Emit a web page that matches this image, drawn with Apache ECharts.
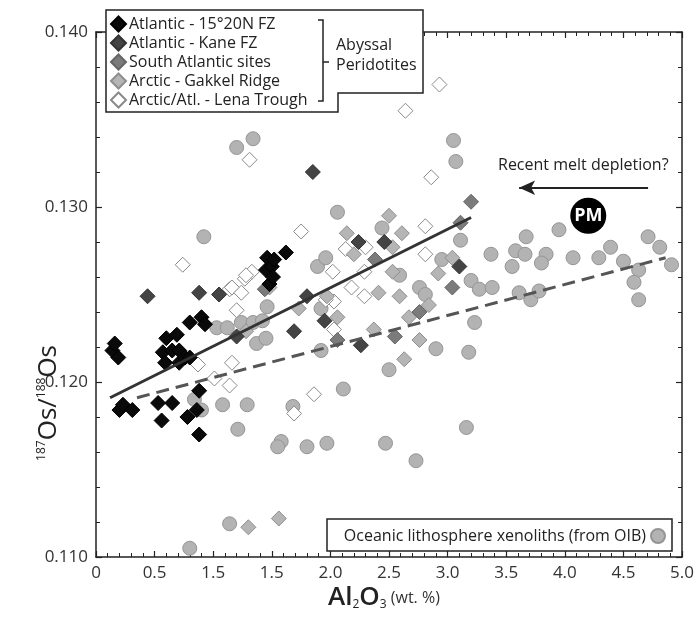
<!DOCTYPE html>
<html>
<head>
<meta charset="utf-8">
<script src="https://cdn.jsdelivr.net/npm/echarts@6/dist/echarts.min.js"></script>
<style>
  html, body { margin: 0; padding: 0; background: #fff; }
  #chart { width: 697px; height: 618px; }
</style>
</head>
<body>
<div id="chart"></div>
<script>
// tick labels as printed in the figure (the 1.0 tick really reads "1.5")
var xTickLabels = ['0', '0.5', '1.5', '1.5', '2.0', '2.5', '3.0', '3.5', '4.0', '4.5', '5.0']

// [Al2O3 wt.%, 187Os/188Os]
var atlantic1520 = [
  [0.14, 0.1218], [0.16, 0.1222], [0.19, 0.1214], [0.20, 0.1184], [0.23, 0.1187], [0.31, 0.1184],
  [0.53, 0.1188], [0.56, 0.1178], [0.65, 0.1188], [0.78, 0.1180], [0.86, 0.1184], [0.88, 0.1195],
  [0.88, 0.1170], [0.57, 0.1217], [0.59, 0.1211], [0.60, 0.1225], [0.65, 0.1218], [0.69, 0.1227],
  [0.71, 0.1218], [0.71, 0.1211], [0.76, 0.1214], [0.80, 0.1214], [0.80, 0.1234], [0.90, 0.1237],
  [0.93, 0.1233], [1.45, 0.1264], [1.46, 0.1271], [1.48, 0.1256], [1.50, 0.1266], [1.51, 0.1260],
  [1.52, 0.1270], [1.62, 0.1274]
]
var kaneFZ = [
  [0.44, 0.1249], [0.88, 0.1251], [1.05, 0.1250], [1.20, 0.1226], [1.69, 0.1229], [1.80, 0.1249],
  [1.85, 0.1320], [1.95, 0.1235], [2.24, 0.1280], [2.26, 0.1221], [2.46, 0.1280], [3.10, 0.1266]
]
var southAtlantic = [
  [3.20, 0.1303], [3.11, 0.1291], [3.04, 0.1254], [2.06, 0.1224], [2.76, 0.1240], [1.44, 0.1253],
  [2.55, 0.1226], [2.38, 0.1270]
]
var gakkel = [
  [2.50, 0.1295], [2.61, 0.1285], [2.14, 0.1285], [2.53, 0.1277], [3.04, 0.1271], [2.53, 0.1263],
  [2.41, 0.1251], [2.59, 0.1249], [1.97, 0.1249], [1.28, 0.1229], [1.48, 0.1254], [1.30, 0.1117],
  [1.56, 0.1122], [2.06, 0.1237], [2.37, 0.1230], [2.67, 0.1237], [2.76, 0.1224], [1.73, 0.1242],
  [2.84, 0.1244], [2.63, 0.1213], [2.20, 0.1273], [2.92, 0.1262]
]
var lenaTrough = [
  [2.93, 0.1370], [2.64, 0.1355], [1.31, 0.1327], [2.86, 0.1317], [1.75, 0.1286], [2.81, 0.1289],
  [2.13, 0.1276], [2.30, 0.1277], [2.81, 0.1273], [2.02, 0.1263], [2.29, 0.1263], [2.18, 0.1254],
  [2.29, 0.1249], [1.33, 0.1263], [1.27, 0.1259], [1.14, 0.1253], [0.74, 0.1267], [1.28, 0.1261],
  [1.16, 0.1254], [1.24, 0.1251], [1.20, 0.1241], [2.03, 0.1230], [2.03, 0.1246], [0.87, 0.1210],
  [1.16, 0.1211], [1.01, 0.1202], [1.14, 0.1198], [1.69, 0.1182], [1.86, 0.1193], [1.96, 0.1247]
]
var xenoliths = [
  [1.20, 0.1334], [1.34, 0.1339], [3.05, 0.1338], [3.07, 0.1326], [2.06, 0.1297], [0.92, 0.1283],
  [2.44, 0.1288], [3.11, 0.1281], [3.37, 0.1273], [2.95, 0.1270], [1.89, 0.1266], [1.96, 0.1271],
  [2.59, 0.1261], [2.76, 0.1254], [2.81, 0.1250], [3.20, 0.1258], [3.27, 0.1253], [1.46, 0.1243],
  [1.03, 0.1231], [1.12, 0.1231], [1.24, 0.1234], [1.34, 0.1234], [1.42, 0.1235], [1.37, 0.1222],
  [1.45, 0.1225], [1.92, 0.1242], [1.92, 0.1218], [0.84, 0.1190], [0.90, 0.1184], [1.08, 0.1187],
  [1.29, 0.1187], [1.21, 0.1173], [1.68, 0.1186], [1.58, 0.1166], [1.55, 0.1163], [1.80, 0.1163],
  [1.97, 0.1165], [3.67, 0.1283], [3.95, 0.1287], [3.58, 0.1275], [3.66, 0.1273], [3.84, 0.1273],
  [4.39, 0.1277], [4.71, 0.1283], [4.81, 0.1277], [3.55, 0.1266], [3.80, 0.1268], [4.07, 0.1271],
  [4.29, 0.1271], [4.50, 0.1269], [4.63, 0.1264], [4.91, 0.1267], [4.59, 0.1257], [4.63, 0.1247],
  [3.38, 0.1254], [3.61, 0.1251], [3.71, 0.1247], [3.78, 0.1252], [3.23, 0.1234], [3.18, 0.1217],
  [2.90, 0.1219], [3.16, 0.1174], [2.73, 0.1155], [2.47, 0.1165], [2.50, 0.1207], [2.11, 0.1196],
  [0.80, 0.1105], [1.14, 0.1119]
]
var abyssalTrend = [[0.12, 0.1191], [3.20, 0.1294]]
var xenolithTrend = [[0.35, 0.1191], [4.86, 0.1271]]
var primitiveMantle = [[4.20, 0.1295]]
var meltArrow = [[4.71, 0.1311], [3.61, 0.1311]]

var FONT = '"Open Sans", "DejaVu Sans", sans-serif'

var chart = echarts.init(document.getElementById('chart'))

function diamondSeries(name, data, fill, border) {
  return {
    name: name,
    type: 'scatter',
    data: data,
    symbol: 'diamond',
    symbolSize: [15, 15],
    itemStyle: { color: fill, borderColor: border, borderWidth: 1, opacity: 1 },
    z: 2
  }
}

function axisCommon(pos, showLabel) {
  return {
    position: pos,
    axisLine: { show: true, onZero: false, lineStyle: { color: '#222', width: 1.5 } },
    axisTick: { show: true, inside: true, length: 6, lineStyle: { color: '#222', width: 1.2 } },
    minorTick: { show: true, splitNumber: 5, length: 4, lineStyle: { color: '#222', width: 1 } },
    splitLine: { show: false },
    axisLabel: { show: showLabel }
  }
}

var xBottom = axisCommon('bottom', true)
xBottom.type = 'value'
xBottom.min = 0
xBottom.max = 5
xBottom.interval = 0.5
xBottom.axisLabel = {
  show: true, margin: 8, color: '#333', fontSize: 17, fontFamily: FONT,
  formatter: function (v) { return xTickLabels[Math.round(v / 0.5)] }
}
var xTop = axisCommon('top', false)
xTop.type = 'value'
xTop.min = 0
xTop.max = 5
xTop.interval = 0.5

var yLeft = axisCommon('left', true)
yLeft.type = 'value'
yLeft.min = 0.11
yLeft.max = 0.14
yLeft.interval = 0.01
yLeft.axisLabel = {
  show: true, margin: 8, color: '#333', fontSize: 17, fontFamily: FONT,
  formatter: function (v) { return v.toFixed(3) }
}
var yRight = axisCommon('right', false)
yRight.type = 'value'
yRight.min = 0.11
yRight.max = 0.14
yRight.interval = 0.01

chart.setOption({
  animation: false,
  backgroundColor: '#fff',
  grid: { left: 96, right: 13, top: 32, bottom: 61 },
  xAxis: [xBottom, xTop],
  yAxis: [yLeft, yRight],
  legend: [{
    data: ['Atlantic - 15°20N FZ', 'Atlantic - Kane FZ', 'South Atlantic sites', 'Arctic - Gakkel Ridge', 'Arctic/Atl. - Lena Trough'],
    orient: 'vertical',
    left: 110,
    top: 15,
    padding: 0,
    itemGap: 1,
    itemWidth: 15,
    itemHeight: 15,
    icon: 'diamond',
    selectedMode: false,
    z: 10,
    textStyle: { color: '#222', fontSize: 16, lineHeight: 18, fontFamily: FONT, padding: [0, 0, 0, -2] }
  }, {
    data: ['Oceanic lithosphere xenoliths (from OIB)'],
    align: 'right',
    right: 31,
    top: 528,
    padding: 0,
    itemWidth: 14,
    itemHeight: 14,
    icon: 'circle',
    selectedMode: false,
    z: 10,
    textStyle: { color: '#222', fontSize: 16, fontFamily: FONT }
  }],
  graphic: [
    {
      type: 'polygon', z: 5,
      shape: { points: [[106, 10], [423, 10], [423, 93], [338, 93], [338, 112], [106, 112]] },
      style: { fill: '#fff', stroke: '#222', lineWidth: 1.5 }
    },
    {
      type: 'polyline', z: 6,
      shape: { points: [[318, 20], [323, 20], [323, 101], [318, 101]] },
      style: { stroke: '#222', lineWidth: 1.5, fill: null }
    },
    {
      type: 'line', z: 6,
      shape: { x1: 323, y1: 62, x2: 329, y2: 62 },
      style: { stroke: '#222', lineWidth: 1.5 }
    },
    {
      type: 'text', z: 6, left: 336, top: 35,
      style: { text: 'Abyssal\nPeridotites', fill: '#222', font: '16px ' + FONT, lineHeight: 20 }
    },
    {
      type: 'rect', z: 5,
      shape: { x: 327, y: 519, width: 345, height: 32 },
      style: { fill: '#fff', stroke: '#222', lineWidth: 1.5 }
    },
    {
      type: 'text', z: 6, left: 498, top: 157,
      style: { text: 'Recent melt depletion?', fill: '#222', font: '16px ' + FONT }
    },
    {
      type: 'text', z: 6, left: 36, top: 345, rotation: Math.PI / 2,
      style: {
        rich: {
          sup: { fontSize: 12, fontFamily: FONT, fill: '#222', verticalAlign: 'top', lineHeight: 26, padding: [0, 0, 10, 0] },
          big: { fontSize: 26, fontFamily: FONT, fill: '#222', lineHeight: 26 }
        },
        text: '{sup|187}{big|Os/}{sup|188}{big|Os}'
      }
    },
    {
      type: 'text', z: 6, left: 328, top: 585,
      style: {
        rich: {
          big: { fontSize: 26, fontFamily: FONT, fontWeight: 600, fill: '#222', lineHeight: 30 },
          sub: { fontSize: 12, fontFamily: FONT, fill: '#222', lineHeight: 30, padding: [14, 0, 0, 0] },
          small: { fontSize: 16, fontFamily: FONT, fill: '#333', lineHeight: 30 }
        },
        text: '{big|Al}{sub|2}{big|O}{sub|3}{small| (wt. %)}'
      }
    }
  ],
  series: [
    {
      name: 'Oceanic lithosphere xenoliths (from OIB)',
      type: 'scatter',
      data: xenoliths,
      symbol: 'circle',
      symbolSize: 14,
      itemStyle: { color: '#b3b3b3', borderColor: '#959595', borderWidth: 1, opacity: 1 },
      z: 2
    },
    diamondSeries('Arctic/Atl. - Lena Trough', lenaTrough, '#ffffff', '#8a8a8a'),
    diamondSeries('Arctic - Gakkel Ridge', gakkel, '#b5b5b5', '#8f8f8f'),
    diamondSeries('South Atlantic sites', southAtlantic, '#7b7b7b', '#666666'),
    diamondSeries('Atlantic - Kane FZ', kaneFZ, '#444444', '#333333'),
    diamondSeries('Atlantic - 15°20N FZ', atlantic1520, '#0a0a0a', '#000000'),
    {
      name: 'abyssal trend',
      type: 'line',
      data: abyssalTrend,
      symbol: 'none',
      lineStyle: { color: '#333', width: 3 },
      z: 3
    },
    {
      name: 'xenolith trend',
      type: 'line',
      data: xenolithTrend,
      symbol: 'none',
      lineStyle: { color: '#555', width: 3, type: [13, 7] },
      z: 3
    },
    {
      name: 'melt depletion',
      type: 'line',
      data: [],
      z: 3,
      markLine: {
        silent: true,
        symbol: ['none', 'arrow'],
        symbolSize: [11, 16],
        label: { show: false },
        lineStyle: { color: '#222', width: 2, type: 'solid' },
        data: [[{ coord: meltArrow[0] }, { coord: meltArrow[1] }]]
      }
    },
    {
      name: 'PM',
      type: 'scatter',
      data: primitiveMantle,
      symbol: 'circle',
      symbolSize: 36,
      itemStyle: { color: '#000', opacity: 1 },
      label: { show: true, position: 'inside', formatter: 'PM', color: '#fff', fontSize: 18, fontWeight: 'bold', fontFamily: FONT },
      z: 4
    }
  ]
})
</script>
</body>
</html>
